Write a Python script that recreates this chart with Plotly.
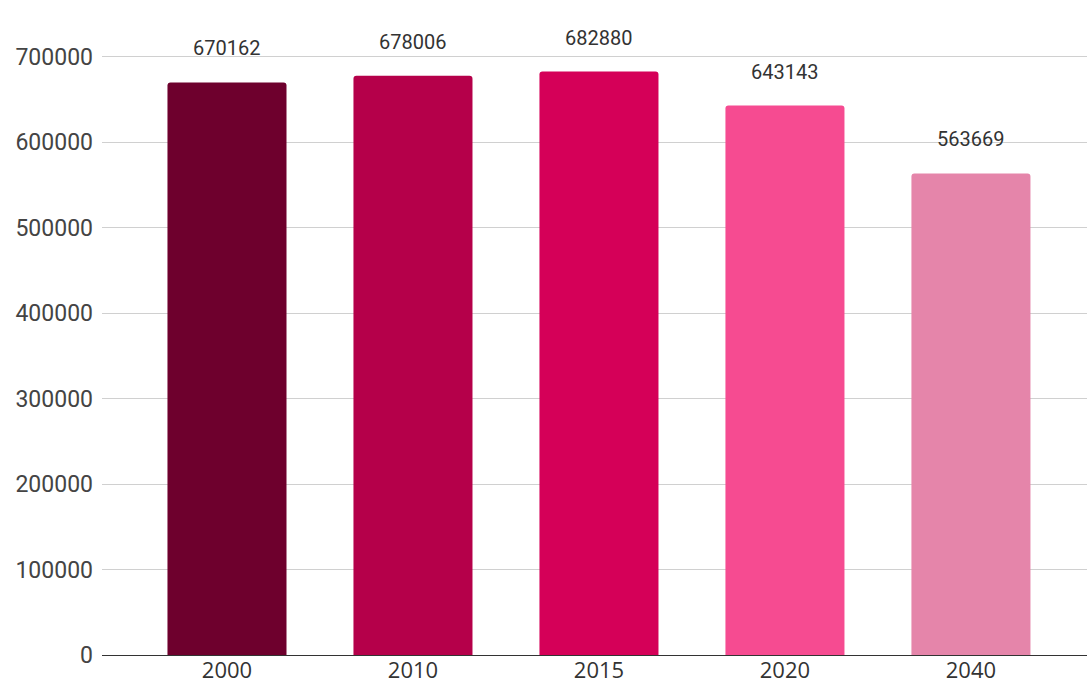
import plotly.graph_objects as go

# Population by year
years = ["2000", "2010", "2015", "2020", "2040"]
population = [670162, 678006, 682880, 643143, 563669]
bar_colors = ["#6e002d", "#b5004a", "#d50058", "#f64b91", "#e585aa"]
y_ticks = [0, 100000, 200000, 300000, 400000, 500000, 600000, 700000]

fig = go.Figure()
fig.add_trace(go.Bar(
    x=list(range(len(years))),
    y=population,
    marker=dict(color=bar_colors, line=dict(width=0)),
    width=0.64,
    hoverinfo="y",
))

# Value labels above each bar
for i, val in enumerate(population):
    fig.add_annotation(
        x=i, y=val, text=str(val),
        xref="x", yref="y",
        showarrow=False, yanchor="bottom", yshift=20,
        font=dict(family="Roboto", size=20, color="#333333"),
    )

fig.update_layout(
    width=1087, height=687,
    margin=dict(l=102, r=0, t=0, b=32),
    paper_bgcolor="white", plot_bgcolor="white",
    barcornerradius=3,
    showlegend=False,
    xaxis=dict(
        range=[-0.672, 4.624],
        tickvals=list(range(len(years))),
        ticktext=years,
        showgrid=False, zeroline=False,
        showline=True, linecolor="#333333", linewidth=1,
        ticks="",
        automargin=False,
        ticklabelstandoff=-4,
        tickfont=dict(family="Open Sans", size=22, color="#333333"),
    ),
    yaxis=dict(
        range=[0, 766700],
        tickvals=y_ticks,
        ticktext=[str(v) for v in y_ticks],
        showgrid=True, gridcolor="#d0d0d0", gridwidth=1,
        zeroline=False,
        ticks="",
        automargin=False,
        ticklabelstandoff=8,
        tickfont=dict(family="Roboto", size=23, color="#444444"),
    ),
)

fig.write_html("out.html")
